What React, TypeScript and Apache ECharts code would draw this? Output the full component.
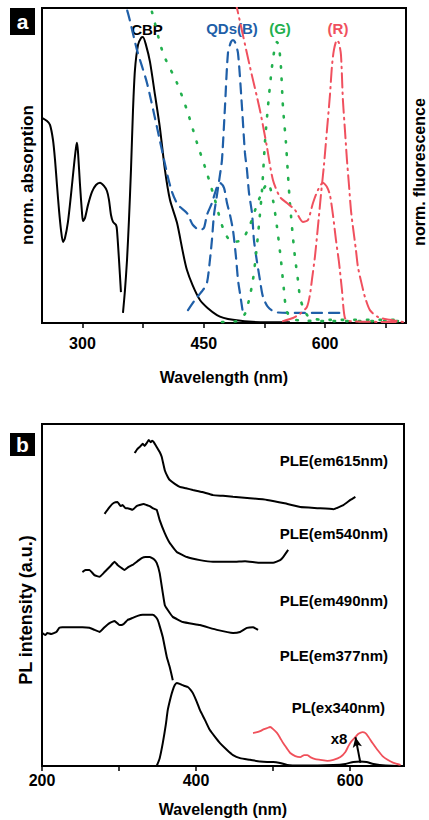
import React, { useEffect, useRef } from "react";
import * as echarts from "echarts";

// ---------- Panel a data (wavelength nm, normalized intensity 0-100) ----------
const CBP_ABS: [number, number][] = [
  [250, 65.1], [256.2, 64.1], [259.9, 62.9], [263.6, 58.1], [266.1, 51.8], [268.5, 43.8],
  [271.0, 35.9], [273.5, 29.5], [276.0, 25.7], [278.4, 27.0], [282.1, 32.1], [285.8, 40.6],
  [289.6, 50.2], [292.0, 55.6], [293.3, 57.2], [294.5, 54.3], [297.0, 43.8], [299.4, 35.2],
  [300.7, 32.4], [303.1, 33.3], [306.9, 37.5], [311.8, 41.6], [316.7, 43.8], [321.7, 44.5],
  [326.6, 43.5], [330.3, 41.9], [332.8, 39.1], [335.3, 34.3], [337.8, 32.1], [341.5, 31.1],
  [342.7, 29.5], [345.2, 20.0], [347.6, 9.8],
];
const CBP_EM: [number, number][] = [
  [350.1, 3.2], [352.6, 10.5], [355.1, 20.0], [357.5, 32.7], [360.0, 48.6], [362.5, 67.6],
  [364.9, 80.3], [368.7, 88.3], [372.4, 90.5], [374.8, 90.8], [378.5, 88.3], [383.5, 82.9],
  [389.7, 72.4], [395.8, 61.9], [402.0, 48.6], [408.2, 39.1], [416.9, 31.8], [429.2, 16.8],
  [445.3, 7.3], [466.3, 2.5], [486.1, 1.0], [528.1, 0.2], [556.5, 0.2],
];
const QD_B_ABS: [number, number][] = [
  [346.4, 104], [355.1, 99.4], [367.4, 86.7], [379.8, 76.2], [392.1, 62.2], [404.5, 47.6],
  [410.7, 41.6], [418.1, 37.5], [429.2, 34.9], [436.6, 31.1], [445.3, 29.5], [450.2, 30.2],
  [453.9, 34.3], [460.1, 38.1], [466.3, 43.2], [470.0, 44.5], [475.0, 42.9], [478.7, 38.1],
  [482.4, 34.3], [486.1, 29.5], [489.8, 21.0], [492.3, 13.7], [494.7, 9.5], [498.4, 3.2],
];
const QD_B_EM: [number, number][] = [
  [430.5, 4.1], [439.1, 7.3], [449.0, 10.5], [453.9, 12.7], [457.6, 20.0], [460.1, 26.4],
  [462.6, 34.3], [466.3, 40.6], [470.0, 47.0], [472.5, 51.8], [476.2, 68.6], [479.9, 85.7],
  [483.6, 89.2], [486.1, 89.8], [488.5, 89.2], [492.3, 85.7], [497.2, 68.6], [500.9, 54.0],
  [503.4, 48.6], [505.9, 41.3], [509.6, 34.9], [512.0, 26.4], [514.5, 21.6], [519.4, 13.7],
  [523.2, 8.3], [529.3, 5.1], [538.0, 3.5], [556.5, 3.2], [622.0, 3.2],
];
const QD_G_ABS: [number, number][] = [
  [381.0, 102.6], [386.0, 98.7], [399.6, 85.7], [416.9, 76.2], [429.2, 67.6], [441.6, 57.2],
  [453.9, 47.6], [463.8, 39.1], [473.7, 30.2], [484.8, 25.7], [497.2, 26.4], [507.1, 31.1],
  [515.7, 37.5], [523.2, 42.2], [529.3, 44.5], [535.5, 39.1], [540.5, 30.5], [545.4, 20.0],
  [549.1, 10.5], [552.8, 3.5], [562.7, 1.0], [606.0, 0.6], [692.5, 0.6],
];
const QD_G_EM: [number, number][] = [
  [472.5, 0.3], [491.0, 0.6], [500.9, 2.9], [505.9, 7.3], [510.8, 13.7], [514.5, 21.6],
  [518.2, 31.1], [522.0, 42.2], [525.6, 57.2], [529.3, 68.6], [534.3, 81.3], [538.0, 87.6],
  [540.5, 89.2], [543.0, 87.6], [545.4, 81.3], [547.9, 68.6], [551.6, 57.2], [554.1, 47.0],
  [556.5, 38.1], [560.2, 27.3], [562.7, 21.0], [566.4, 13.7], [568.9, 8.3], [572.6, 5.1],
  [581.2, 1.6], [606.0, 1.0], [692.5, 1.0],
];
const QD_R_ABS: [number, number][] = [
  [488.5, 102.6], [491.0, 100], [507.1, 81.3], [519.4, 67.6], [528.1, 55.9], [535.5, 45.4],
  [544.2, 40.0], [552.8, 38.1], [562.7, 35.9], [572.6, 32.1], [578.8, 32.7], [585.0, 38.1],
  [591.1, 42.2], [597.3, 44.5], [602.3, 43.2], [606.0, 40.6], [609.7, 34.3], [613.4, 26.4],
  [617.1, 19.4], [620.8, 10.5], [624.5, 1.6], [630.7, 0.6], [692.5, 0.3],
];
const QD_R_EM: [number, number][] = [
  [547.9, 0.6], [560.2, 1.6], [568.9, 2.9], [577.5, 5.1], [581.2, 8.9], [583.7, 13.7],
  [587.4, 21.0], [591.1, 30.5], [594.8, 40.6], [598.6, 50.2], [602.3, 61.3], [606.0, 72.4],
  [608.4, 81.3], [610.9, 86.7], [614.6, 89.8], [617.1, 88.9], [619.6, 85.1], [622.0, 70.8],
  [624.5, 61.3], [627.0, 51.8], [629.5, 43.8], [631.9, 35.9], [634.4, 30.5], [638.1, 23.2],
  [640.6, 17.8], [645.5, 12.1], [649.2, 8.3], [655.4, 4.1], [665.3, 1.9], [680.1, 1.0],
  [696.2, 0.3],
];

// ---------- Panel b data (wavelength nm, PL intensity a.u. 0-100, offset) ----------
const PLE_615: [number, number][] = [
  [320.3, 91.5], [323.5, 92.6], [326.8, 93.3], [330.7, 94.2], [333.3, 93.6], [335.9, 94.4],
  [338.5, 95.3], [341.1, 94.7], [343.0, 95.1], [345.1, 94.7], [348.9, 93.3], [352.8, 91.8],
  [355.4, 90.4], [359.4, 86.5], [363.3, 84.5], [365.9, 83.6], [372.4, 82.5], [378.9, 81.6],
  [387.0, 81.2], [395.9, 80.7], [408.0, 80.1], [421.9, 79.2], [435.0, 79.0], [448.0, 78.7],
  [470.0, 78.3], [492.3, 77.8], [515.0, 76.8], [535.3, 75.7], [557.4, 75.4], [578.3, 75.1],
  [591.3, 76.3], [600.4, 77.8], [606.9, 78.7],
];
const PLE_540: [number, number][] = [
  [281.2, 73.7], [287.7, 75.7], [292.9, 76.9], [298.1, 77.2], [302.0, 76.0], [304.6, 76.3],
  [308.5, 75.4], [311.1, 75.4], [317.6, 74.9], [322.8, 76.0], [326.8, 76.3], [332.0, 76.6],
  [335.9, 76.3], [339.8, 76.0], [343.7, 75.4], [348.9, 74.9], [352.8, 71.9], [359.4, 68.1],
  [365.9, 65.2], [375.0, 62.6], [388.1, 61.1], [405.0, 60.2], [421.9, 59.7], [448.0, 59.7],
  [463.6, 59.9], [483.2, 59.4], [500.1, 59.4], [509.2, 60.2], [513.1, 61.1], [519.6, 63.2],
];
const PLE_490: [number, number][] = [
  [252.5, 56.7], [256.4, 57.3], [261.6, 57.3], [268.1, 55.8], [274.7, 55.3], [279.9, 56.4],
  [283.8, 57.3], [289.0, 58.5], [294.2, 59.7], [298.1, 58.8], [303.3, 57.9], [307.2, 57.3],
  [312.4, 58.2], [317.6, 58.8], [324.1, 59.9], [329.4, 60.8], [334.6, 61.1], [339.8, 61.1],
  [345.0, 60.5], [348.9, 59.4], [352.8, 56.4], [356.8, 50.6], [359.4, 47.1], [363.3, 45.6],
  [369.8, 43.6], [382.8, 42.1], [405.0, 41.2], [427.1, 39.8], [448.0, 38.9], [457.1, 39.2],
  [466.2, 40.4], [474.0, 40.6], [480.5, 39.8],
];
const PLE_377: [number, number][] = [
  [200.4, 38.9], [204.3, 38.3], [206.9, 38.9], [212.1, 38.6], [218.6, 39.2], [222.5, 40.4],
  [226.4, 40.6], [235.5, 40.6], [244.7, 40.6], [252.5, 40.6], [261.6, 40.4], [268.1, 39.8],
  [274.7, 39.2], [281.2, 40.6], [287.7, 41.8], [294.2, 42.4], [300.7, 41.2], [305.9, 41.5],
  [311.1, 42.7], [317.6, 43.3], [324.1, 43.9], [330.7, 44.2], [337.2, 44.2], [343.7, 44.2],
  [347.6, 43.6], [350.2, 42.7], [352.8, 40.9], [356.8, 37.7], [359.4, 34.8], [362.0, 31.9],
  [365.9, 28.9], [369.8, 25.1],
];
const PL_340: [number, number][] = [
  [348.9, 0], [352.8, 2.3], [356.8, 6.7], [360.7, 12.0], [363.3, 16.4], [367.2, 20.2],
  [369.8, 22.2], [372.4, 23.7], [375.0, 24.3], [378.9, 24.0], [381.5, 23.7], [385.4, 23.4],
  [389.3, 23.1], [393.2, 22.2], [395.9, 21.3], [401.1, 18.7], [405.0, 16.4], [411.5, 13.5],
  [418.0, 10.5], [424.6, 8.5], [431.1, 6.7], [440.2, 4.7], [448.0, 3.2], [457.1, 2.3],
  [470.2, 1.8], [483.2, 1.3], [492.3, 1.2], [500.1, 1.2], [509.2, 0.9], [518.4, 0.3],
  [535.3, 0.15], [578.3, 0.3], [593.9, 0.6], [604.3, 1.2], [613.4, 1.3], [621.3, 1.2],
  [630.4, 0.6], [646.1, 0.15], [669.5, 0],
];
const PL_340_X8: [number, number][] = [
  [474.0, 9.6], [479.3, 9.9], [483.2, 10.2], [488.4, 10.8], [492.3, 11.1], [496.2, 11.4],
  [500.1, 10.8], [505.3, 9.6], [509.2, 8.2], [513.1, 6.7], [518.4, 5.0], [522.3, 3.8],
  [528.8, 2.9], [535.3, 2.6], [540.5, 3.2], [544.4, 3.2], [548.3, 2.6], [554.8, 2.0],
  [561.4, 1.8], [570.5, 1.5], [578.3, 1.8], [587.4, 2.6], [593.9, 4.1], [597.8, 5.8],
  [601.7, 7.2], [607.0, 8.5], [610.9, 9.4], [616.1, 9.9], [620.0, 9.6], [623.9, 8.5],
  [629.1, 6.7], [635.6, 4.7], [642.1, 2.9], [648.7, 1.8], [656.5, 0.9], [665.6, 0.3],
];
const ARROW_FROM: [number, number] = [613.4, 0.9];
const ARROW_TO: [number, number] = [607.0, 8.4];

const TICKS_A = [300, 375, 450, 525, 600, 675];
const LABELS_A = [300, 450, 600];
const TICKS_B = [200, 300, 400, 500, 600];
const LABELS_B = [200, 400, 600];

const FONT = "'Liberation Sans', Arial, Helvetica, sans-serif";
const BLUE = "#1f5fa8";
const GREEN = "#22b04e";
const RED = "#f0505e";

function line(name: string, data: [number, number][], idx: number, color: string, type: any, width = 2, smooth: number | boolean = 0.25) {
  return {
    name,
    type: "line",
    xAxisIndex: idx,
    yAxisIndex: idx,
    data,
    showSymbol: false,
    symbol: "none",
    smooth,
    clip: true,
    lineStyle: { color, width, type, cap: type === "solid" ? "butt" : "round" },
    z: 3,
  };
}

export default function App() {
  const ref = useRef<HTMLDivElement>(null);
  useEffect(() => {
    if (!ref.current) return;
    const chart = echarts.init(ref.current, undefined, { renderer: "svg" });
    const axisLabelStyle = { color: "#000", fontWeight: "bold", fontSize: 16, fontFamily: FONT };
    const nameStyle = { color: "#000", fontWeight: "bold", fontSize: 16, fontFamily: FONT };
    const option: any = {
      animation: false,
      backgroundColor: "#fff",
      grid: [
        { left: 42, top: 8, width: 364, height: 315, show: true, borderColor: "#000", borderWidth: 2, backgroundColor: "transparent" },
        { left: 42, top: 424, width: 362, height: 342, show: true, borderColor: "#000", borderWidth: 2, backgroundColor: "transparent" },
      ],
      xAxis: [
        {
          gridIndex: 0, type: "value", min: 250, max: 700,
          axisLine: { show: true, lineStyle: { color: "#000", width: 2 } },
          axisTick: { show: true, inside: false, length: 5, lineStyle: { color: "#000", width: 1.5 }, customValues: TICKS_A },
          axisLabel: { ...axisLabelStyle, margin: 12, customValues: LABELS_A },
          splitLine: { show: false },
          name: "Wavelength (nm)", nameLocation: "middle", nameGap: 46, nameTextStyle: nameStyle,
        },
        {
          gridIndex: 1, type: "value", min: 200, max: 670,
          axisLine: { show: true, lineStyle: { color: "#000", width: 2 } },
          axisTick: { show: true, inside: false, length: 5, lineStyle: { color: "#000", width: 1.5 }, customValues: TICKS_B },
          axisLabel: { ...axisLabelStyle, margin: 6, customValues: LABELS_B },
          splitLine: { show: false },
          name: "Wavelength (nm)", nameLocation: "middle", nameGap: 35, nameTextStyle: nameStyle,
        },
      ],
      yAxis: [
        { gridIndex: 0, type: "value", min: 0, max: 100, axisLine: { show: false }, axisTick: { show: false }, axisLabel: { show: false }, splitLine: { show: false } },
        { gridIndex: 1, type: "value", min: 0, max: 100, axisLine: { show: false }, axisTick: { show: false }, axisLabel: { show: false }, splitLine: { show: false } },
      ],
      series: [
        line("CBP absorption", CBP_ABS, 0, "#000", "solid", 2),
        line("CBP emission", CBP_EM, 0, "#000", "solid", 2),
        line("QDs(B) absorption", QD_B_ABS, 0, BLUE, [10, 7], 2.2),
        line("QDs(B) emission", QD_B_EM, 0, BLUE, [10, 7], 2.2),
        line("QDs(G) absorption", QD_G_ABS, 0, GREEN, [1.5, 11], 2.6),
        line("QDs(G) emission", QD_G_EM, 0, GREEN, [1.5, 11], 2.6),
        line("QDs(R) absorption", QD_R_ABS, 0, RED, [14, 5, 1.5, 5], 2),
        line("QDs(R) emission", QD_R_EM, 0, RED, [14, 5, 1.5, 5], 2),
        line("PLE(em615nm)", PLE_615, 1, "#000", "solid", 2, 0.1),
        line("PLE(em540nm)", PLE_540, 1, "#000", "solid", 2, 0.1),
        line("PLE(em490nm)", PLE_490, 1, "#000", "solid", 2, 0.1),
        line("PLE(em377nm)", PLE_377, 1, "#000", "solid", 2, 0.1),
        {
          ...line("PL(ex340nm)", PL_340, 1, "#000", "solid", 2, 0.2),
          markLine: {
            silent: true,
            symbol: ["none", "arrow"],
            symbolSize: [7, 10],
            label: { show: false },
            lineStyle: { color: "#000", width: 2, type: "solid" },
            data: [[{ coord: ARROW_FROM }, { coord: ARROW_TO }]],
          },
        },
        line("PL x8", PL_340_X8, 1, "#f0505a", "solid", 1.8, 0.2),
      ],
      graphic: [
        { type: "rect", shape: { x: 10, y: 8, width: 25, height: 27 }, style: { fill: "#000" } },
        { type: "text", x: 22.5, y: 21.5, style: { text: "a", fill: "#fff", font: `bold 21px ${FONT}`, align: "center", verticalAlign: "middle" } },
        { type: "rect", shape: { x: 10, y: 433, width: 25, height: 23 }, style: { fill: "#000" } },
        { type: "text", x: 22.5, y: 444.5, style: { text: "b", fill: "#fff", font: `bold 21px ${FONT}`, align: "center", verticalAlign: "middle" } },
        { type: "text", x: 27, y: 175, rotation: Math.PI / 2, style: { text: "norm. absorption", fill: "#000", font: `bold 17px ${FONT}`, align: "center", verticalAlign: "middle" } },
        { type: "text", x: 419, y: 172, rotation: Math.PI / 2, style: { text: "norm. fluorescence", fill: "#000", font: `bold 16px ${FONT}`, align: "center", verticalAlign: "middle" } },
        { type: "text", x: 26, y: 610, rotation: Math.PI / 2, style: { text: "PL intensity (a.u.)", fill: "#000", font: `bold 18px ${FONT}`, align: "center", verticalAlign: "middle" } },
        { type: "text", x: 147, y: 29, style: { text: "CBP", fill: "#000", font: `bold 15px ${FONT}`, align: "center", verticalAlign: "middle" } },
        { type: "text", x: 232, y: 28, style: { text: "QDs(B)", fill: BLUE, font: `bold 15px ${FONT}`, align: "center", verticalAlign: "middle" } },
        { type: "text", x: 280, y: 28, style: { text: "(G)", fill: GREEN, font: `bold 15px ${FONT}`, align: "center", verticalAlign: "middle" } },
        { type: "text", x: 338, y: 28, style: { text: "(R)", fill: RED, font: `bold 15px ${FONT}`, align: "center", verticalAlign: "middle" } },
        { type: "text", x: 388, y: 460, style: { text: "PLE(em615nm)", fill: "#000", font: `bold 15px ${FONT}`, align: "right", verticalAlign: "middle" } },
        { type: "text", x: 388, y: 533, style: { text: "PLE(em540nm)", fill: "#000", font: `bold 15px ${FONT}`, align: "right", verticalAlign: "middle" } },
        { type: "text", x: 388, y: 600, style: { text: "PLE(em490nm)", fill: "#000", font: `bold 15px ${FONT}`, align: "right", verticalAlign: "middle" } },
        { type: "text", x: 388, y: 655, style: { text: "PLE(em377nm)", fill: "#000", font: `bold 15px ${FONT}`, align: "right", verticalAlign: "middle" } },
        { type: "text", x: 385, y: 707, style: { text: "PL(ex340nm)", fill: "#000", font: `bold 15px ${FONT}`, align: "right", verticalAlign: "middle" } },
        { type: "text", x: 339, y: 738, style: { text: "x8", fill: "#000", font: `bold 15px ${FONT}`, align: "center", verticalAlign: "middle" } },
      ],
    };
    chart.setOption(option);
    return () => chart.dispose();
  }, []);
  return (
    <div
      ref={ref}
      style={{ position: "absolute", left: 0, top: 0, width: 429, height: 820, background: "#fff" }}
    />
  );
}
